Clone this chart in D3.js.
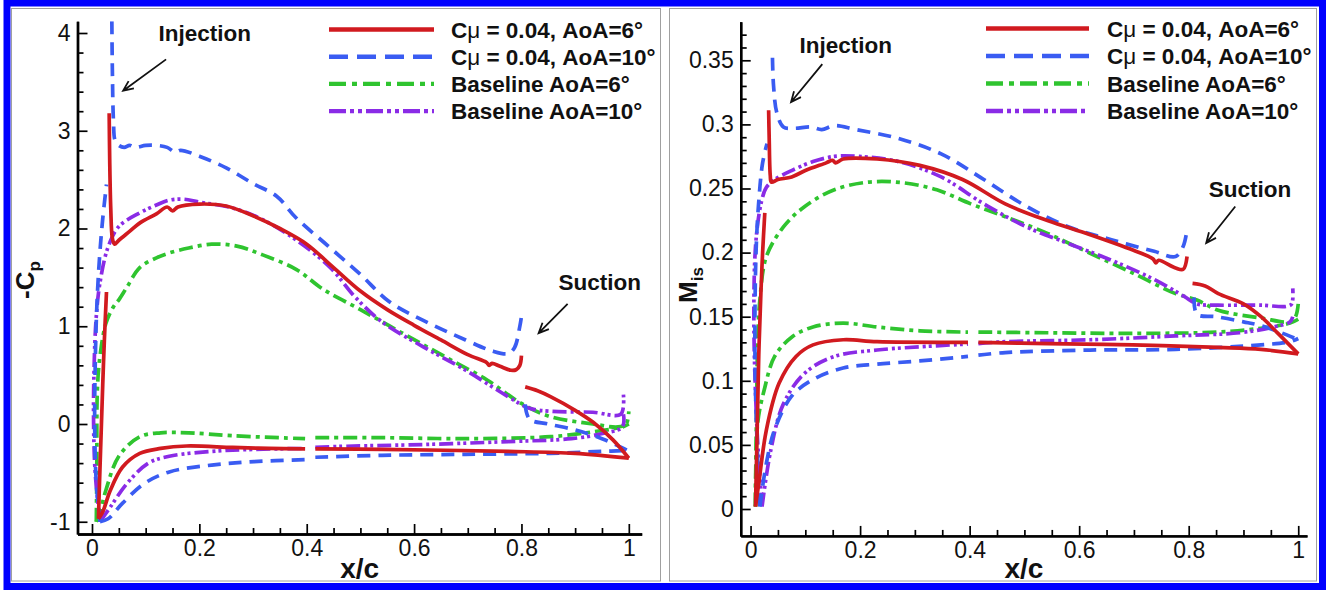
<!DOCTYPE html>
<html>
<head>
<meta charset="utf-8">
<script src="https://cdn.jsdelivr.net/npm/d3@7"></script>
<style>
  body { margin: 0; background: #fff; }
  svg { display: block; }
  text { font-family: "Liberation Sans", Arial, sans-serif; }
</style>
</head>
<body>
<svg id="fig" width="1329" height="590"></svg>
<script>
// ---------- tick labels ----------
const xTicks = [0, 0.2, 0.4, 0.6, 0.8, 1];
const cpTicks = [-1, 0, 1, 2, 3, 4];
const misTicks = [0, 0.05, 0.1, 0.15, 0.2, 0.25, 0.3, 0.35];
const misTickLabels = ["0", "0.05", "0.1", "0.15", "0.2", "0.25", "0.3", "0.35"];

// ---------- legend ----------
const seriesKeys = ["jet6", "jet10", "base6", "base10"];
const legendLabels = [
  ["C", "\u03bc", " = 0.04, AoA=6\u00b0"],
  ["C", "\u03bc", " = 0.04, AoA=10\u00b0"],
  ["Baseline AoA=6\u00b0"],
  ["Baseline AoA=10\u00b0"]
];

// ---------- -Cp distributions: each series is a list of curve pieces [x/c, value] ----------
const cpJet6 = [
  [[0.012,-0.97],[0.014,-0.6],[0.017,-0.1],[0.020,0.4],[0.023,0.85],[0.027,1.35]],
  [[0.032,3.18],[0.033,2.7],[0.035,2.2],[0.038,1.9],[0.042,1.84],[0.05,1.88],[0.07,1.97],[0.09,2.06],[0.12,2.15],[0.14,2.22],[0.15,2.18],[0.16,2.22],[0.2,2.25],[0.25,2.23],[0.3,2.13],[0.35,2.0],[0.4,1.84],[0.45,1.6],[0.5,1.36],[0.55,1.17],[0.6,1.01],[0.65,0.86],[0.7,0.71],[0.735,0.63],[0.74,0.6],[0.745,0.62],[0.76,0.59],[0.78,0.55],[0.79,0.555],[0.797,0.6],[0.8,0.7]],
  [[0.807,0.38],[0.83,0.34],[0.854,0.28],[0.9,0.14],[0.933,0.02],[0.97,-0.16],[1.0,-0.35]],
  [[0.012,-0.97],[0.02,-0.9],[0.034,-0.68],[0.057,-0.44],[0.089,-0.3],[0.128,-0.25],[0.176,-0.225],[0.262,-0.24],[0.33,-0.25],[0.397,-0.255]],
  [[0.416,-0.255],[0.54,-0.26],[0.775,-0.28],[0.9,-0.3],[1.0,-0.35]]
];
const cpJet10 = [
  [[0.015,-1.0],[0.008,-0.6],[0.005,0.0],[0.006,0.6],[0.009,1.2],[0.014,1.7],[0.02,2.1],[0.027,2.45]],
  [[0.037,4.12],[0.038,3.6],[0.04,3.1],[0.043,2.9],[0.05,2.85],[0.06,2.83],[0.07,2.85],[0.08,2.83],[0.1,2.85],[0.12,2.85],[0.14,2.83],[0.155,2.78],[0.165,2.8],[0.2,2.74],[0.25,2.62],[0.3,2.46],[0.344,2.33],[0.38,2.11],[0.44,1.82],[0.5,1.53],[0.554,1.25],[0.617,1.06],[0.696,0.86],[0.744,0.75],[0.775,0.72],[0.787,0.78],[0.797,1.0],[0.8,1.1]],
  [[0.807,0.2],[0.815,0.05],[0.85,0.0],[0.9,-0.06],[0.95,-0.15],[0.99,-0.25],[1.0,-0.28]],
  [[0.015,-1.0],[0.03,-0.97],[0.057,-0.81],[0.097,-0.61],[0.144,-0.49],[0.223,-0.42],[0.302,-0.385],[0.397,-0.365]],
  [[0.416,-0.34],[0.54,-0.32],[0.696,-0.31],[0.854,-0.3],[0.95,-0.28],[1.0,-0.27]]
];
const cpBase6 = [
  [[0.008,-1.0],[0.009,-0.5],[0.01,0.35],[0.015,0.7],[0.026,1.03],[0.04,1.2],[0.05,1.27],[0.065,1.4],[0.089,1.6],[0.12,1.7],[0.144,1.75],[0.18,1.8],[0.223,1.84],[0.27,1.82],[0.318,1.73],[0.381,1.58],[0.43,1.38],[0.5,1.17],[0.578,0.93],[0.657,0.69],[0.736,0.45],[0.8,0.21],[0.854,0.075],[0.933,0.0],[0.98,-0.03],[0.995,0.0],[1.0,0.13]],
  [[0.008,-1.0],[0.015,-0.9],[0.026,-0.675],[0.05,-0.33],[0.089,-0.13],[0.128,-0.09],[0.18,-0.09],[0.262,-0.12],[0.397,-0.15]],
  [[0.416,-0.14],[0.539,-0.14],[0.696,-0.15],[0.854,-0.13],[0.933,-0.08],[0.988,-0.03],[1.0,0.0]]
];
const cpBase10 = [
  [[0.015,-1.0],[0.006,-0.5],[0.003,0.0],[0.004,0.6],[0.008,1.1],[0.015,1.45],[0.03,1.81],[0.05,2.02],[0.089,2.16],[0.12,2.24],[0.144,2.29],[0.17,2.3],[0.2,2.27],[0.262,2.21],[0.318,2.09],[0.381,1.88],[0.444,1.6],[0.49,1.3],[0.539,1.05],[0.617,0.79],[0.696,0.55],[0.775,0.28],[0.815,0.16],[0.854,0.13],[0.933,0.12],[0.985,0.1],[0.99,0.3]],
  [[0.015,-1.0],[0.034,-0.85],[0.065,-0.61],[0.105,-0.4],[0.144,-0.33],[0.223,-0.28],[0.302,-0.26],[0.397,-0.25]],
  [[0.416,-0.24],[0.459,-0.23],[0.617,-0.21],[0.775,-0.18],[0.893,-0.15],[0.949,-0.1],[0.988,-0.03],[0.99,0.1]]
];

// ---------- isentropic Mach number distributions ----------
const misJet6 = [
  [[0.009,0.002],[0.012,0.06],[0.015,0.12],[0.019,0.17],[0.022,0.2],[0.026,0.231]],
  [[0.033,0.311],[0.034,0.29],[0.036,0.26],[0.038,0.255],[0.05,0.257],[0.075,0.259],[0.1,0.264],[0.138,0.27],[0.15,0.272],[0.155,0.27],[0.169,0.273],[0.231,0.273],[0.309,0.268],[0.387,0.257],[0.465,0.238],[0.542,0.225],[0.62,0.214],[0.698,0.202],[0.735,0.195],[0.74,0.192],[0.745,0.194],[0.776,0.188],[0.79,0.187],[0.797,0.197]],
  [[0.807,0.176],[0.83,0.174],[0.854,0.168],[0.9,0.16],[0.932,0.15],[0.963,0.137],[1.0,0.121]],
  [[0.009,0.002],[0.015,0.02],[0.029,0.062],[0.052,0.098],[0.083,0.119],[0.114,0.128],[0.169,0.132],[0.231,0.1305],[0.397,0.13]],
  [[0.416,0.13],[0.542,0.129],[0.698,0.128],[0.854,0.126],[0.932,0.1245],[1.0,0.121]]
];
const misJet10 = [
  [[0.017,0.002],[0.012,0.05],[0.008,0.12],[0.01,0.2],[0.015,0.24],[0.022,0.27],[0.03,0.285]],
  [[0.04,0.352],[0.042,0.33],[0.048,0.309],[0.06,0.298],[0.08,0.297],[0.11,0.298],[0.13,0.296],[0.153,0.299],[0.192,0.296],[0.27,0.289],[0.348,0.277],[0.426,0.257],[0.504,0.236],[0.581,0.22],[0.659,0.21],[0.737,0.201],[0.776,0.197],[0.79,0.205],[0.797,0.218]],
  [[0.81,0.165],[0.815,0.152],[0.85,0.15],[0.9,0.146],[0.932,0.143],[0.978,0.136],[1.0,0.132]],
  [[0.017,0.002],[0.029,0.036],[0.044,0.062],[0.075,0.088],[0.114,0.101],[0.169,0.11],[0.231,0.113],[0.309,0.1155],[0.397,0.119]],
  [[0.416,0.12],[0.465,0.122],[0.62,0.124],[0.776,0.1245],[0.932,0.128],[0.985,0.1305],[1.0,0.133]]
];
const misBase6 = [
  [[0.009,0.002],[0.011,0.08],[0.013,0.13],[0.017,0.163],[0.029,0.197],[0.06,0.22],[0.099,0.236],[0.153,0.249],[0.216,0.255],[0.278,0.2545],[0.34,0.249],[0.402,0.238],[0.465,0.228],[0.542,0.215],[0.62,0.1995],[0.698,0.184],[0.776,0.168],[0.815,0.163],[0.854,0.155],[0.932,0.149],[0.985,0.146],[0.995,0.15],[1.0,0.16]],
  [[0.009,0.002],[0.013,0.067],[0.025,0.093],[0.044,0.119],[0.075,0.134],[0.114,0.142],[0.169,0.145],[0.231,0.142],[0.309,0.139],[0.397,0.138]],
  [[0.416,0.138],[0.542,0.1375],[0.698,0.137],[0.854,0.138],[0.932,0.141],[0.985,0.145],[1.0,0.148]]
];
const misBase10 = [
  [[0.021,0.002],[0.012,0.06],[0.006,0.15],[0.01,0.21],[0.02,0.24],[0.029,0.251],[0.044,0.257],[0.075,0.264],[0.114,0.271],[0.153,0.275],[0.198,0.275],[0.27,0.271],[0.348,0.259],[0.426,0.238],[0.504,0.22],[0.581,0.207],[0.659,0.194],[0.737,0.179],[0.791,0.166],[0.815,0.16],[0.854,0.159],[0.932,0.159],[0.978,0.158],[0.988,0.16],[0.99,0.172]],
  [[0.021,0.002],[0.037,0.046],[0.06,0.082],[0.099,0.106],[0.153,0.119],[0.231,0.124],[0.309,0.1265],[0.397,0.1287]],
  [[0.416,0.129],[0.465,0.1305],[0.62,0.132],[0.776,0.135],[0.893,0.1375],[0.955,0.142],[0.985,0.146],[0.99,0.15]]
];

// ---------- annotations: [label, textX, textY, arrowFromX, arrowFromY, arrowToX, arrowToY] ----------
const cpNotes = [
  ["Injection", 0.21, 4.0, 0.138, 3.73, 0.058, 3.41],
  ["Suction", 0.946, 1.45, 0.886, 1.23, 0.832, 0.93]
];
const misNotes = [
  ["Injection", 0.174, 0.362, 0.131, 0.347, 0.074, 0.3175],
  ["Suction", 0.912, 0.250, 0.885, 0.236, 0.832, 0.2075]
];

// ---------- styling ----------
const seriesStyle = {
  jet6:   { color: "#d11a1f", dash: null,            legendDash: null },
  jet10:  { color: "#3a5cf2", dash: "13,8",          legendDash: "19,9" },
  base6:  { color: "#2fc42f", dash: "14,5,4,5",      legendDash: "17,6,5,6" },
  base10: { color: "#8a2be6", dash: "14,4,3,3,3,4",  legendDash: "17,4,4,4,4,4" }
};

const svg = d3.select("#fig");

// outer blue frame and the two grey panel outlines
svg.append("rect").attr("x", 7).attr("y", 3).attr("width", 1315.5).attr("height", 583.5)
  .attr("fill", "none").attr("stroke", "#0000ff").attr("stroke-width", 7);
svg.append("rect").attr("x", 11.5).attr("y", 8.5).attr("width", 649).attr("height", 572.5)
  .attr("fill", "#fff").attr("stroke", "#a0a0a0").attr("stroke-width", 1);
svg.append("rect").attr("x", 669.5).attr("y", 8.5).attr("width", 647).attr("height", 572.5)
  .attr("fill", "#fff").attr("stroke", "#a0a0a0").attr("stroke-width", 1);

function drawPanel(cfg) {
  const g = svg.append("g");
  const x = d3.scaleLinear().domain(cfg.xDom).range(cfg.xPx);
  const y = d3.scaleLinear().domain(cfg.yDom).range(cfg.yPx);

  // minor ticks
  const xMinor = d3.range(0, 1.0001, 0.05).filter(v => !xTicks.some(t => Math.abs(t - v) < 1e-6));
  const yMinor = d3.range(cfg.yMinorStart, cfg.yMinorEnd + 1e-9, cfg.yMinorStep)
    .filter(v => !cfg.yTicks.some(t => Math.abs(t - v) < 1e-6));

  const xAxisMinor = d3.axisBottom(x).tickValues(xMinor).tickSize(-6).tickSizeOuter(0).tickFormat("");
  const yAxisMinor = d3.axisLeft(y).tickValues(yMinor).tickSize(-6).tickSizeOuter(0).tickFormat("");
  const xAxis = d3.axisBottom(x).tickValues(xTicks).tickSize(-10).tickSizeOuter(0).tickPadding(6)
    .tickFormat(d => String(d));
  const yAxis = d3.axisLeft(y).tickValues(cfg.yTicks).tickSize(-10).tickSizeOuter(0).tickPadding(7)
    .tickFormat((d, i) => cfg.yLabels[i]);

  const yBase = y(cfg.yDom[0]);
  const xBase = x(cfg.xDom[0]);
  [xAxisMinor, xAxis].forEach(a => g.append("g").attr("transform", `translate(0,${yBase})`).call(a));
  [yAxisMinor, yAxis].forEach(a => g.append("g").attr("transform", `translate(${xBase},0)`).call(a));
  g.selectAll(".domain").attr("stroke", "#000").attr("stroke-width", 2.4);
  g.selectAll(".tick line").attr("stroke", "#000").attr("stroke-width", 1.7);
  g.selectAll(".tick text").attr("fill", "#111").style("font-size", "23px")
    .style("font-family", '"Liberation Sans", Arial, sans-serif');

  // curves
  const line = d3.line().x(d => x(d[0])).y(d => y(d[1])).curve(d3.curveCatmullRom.alpha(0.5));
  const clipId = "clip" + cfg.id;
  g.append("clipPath").attr("id", clipId).append("rect")
    .attr("x", x(cfg.xDom[0])).attr("y", y(cfg.yDom[1]))
    .attr("width", x(cfg.xDom[1]) - x(cfg.xDom[0])).attr("height", y(cfg.yDom[0]) - y(cfg.yDom[1]));
  const curves = g.append("g").attr("clip-path", `url(#${clipId})`);
  ["base6", "base10", "jet10", "jet6"].forEach(key => {
    const st = seriesStyle[key];
    curves.selectAll(null).data(cfg.data[key]).enter().append("path")
      .attr("d", line).attr("fill", "none").attr("stroke", st.color)
      .attr("stroke-width", 3.7).attr("stroke-dasharray", st.dash)
      .attr("stroke-linejoin", "round");
  });

  // legend
  const lg = g.append("g");
  seriesKeys.forEach((key, i) => {
    const st = seriesStyle[key];
    const yy = cfg.legendY + i * cfg.legendStep;
    lg.append("line").attr("x1", cfg.legendX0).attr("x2", cfg.legendX1).attr("y1", yy).attr("y2", yy)
      .attr("stroke", st.color).attr("stroke-width", 4.4).attr("stroke-dasharray", st.legendDash);
    const t = lg.append("text").attr("x", cfg.legendTextX).attr("y", yy + 8)
      .style("font-size", "22.5px").style("font-weight", "bold").attr("fill", "#111");
    const parts = legendLabels[i];
    if (parts.length === 3) {
      t.append("tspan").text(parts[0]);
      t.append("tspan").text(parts[1]).style("font-weight", "normal");
      t.append("tspan").text(parts[2]);
    } else {
      t.text(parts[0]);
    }
  });

  // annotations with arrows
  cfg.notes.forEach(n => {
    g.append("text").attr("x", x(n[1])).attr("y", y(n[2]) + 8).attr("text-anchor", "middle")
      .style("font-size", "22.5px").style("font-weight", "bold").attr("fill", "#111").text(n[0]);
    const x1 = x(n[3]), y1 = y(n[4]), x2 = x(n[5]), y2 = y(n[6]);
    const ang = Math.atan2(y2 - y1, x2 - x1);
    const hl = 11, ha = 0.42;
    g.append("path")
      .attr("d", `M${x1},${y1}L${x2},${y2}` +
        `M${x2 - hl * Math.cos(ang - ha)},${y2 - hl * Math.sin(ang - ha)}L${x2},${y2}` +
        `L${x2 - hl * Math.cos(ang + ha)},${y2 - hl * Math.sin(ang + ha)}`)
      .attr("fill", "none").attr("stroke", "#111").attr("stroke-width", 1.8);
  });

  // axis titles
  g.append("text").attr("x", (x(cfg.xDom[0]) + x(cfg.xDom[1])) / 2).attr("y", 578)
    .attr("text-anchor", "middle").style("font-size", "28px").style("font-weight", "bold")
    .attr("fill", "#111").text("x/c");
  const yt = g.append("text").attr("transform", `translate(${cfg.yTitleX},${cfg.yTitleY}) rotate(-90)`)
    .attr("text-anchor", "middle").style("font-size", "26px").style("font-weight", "bold").attr("fill", "#111");
  yt.append("tspan").text(cfg.yTitle[0]);
  yt.append("tspan").text(cfg.yTitle[1]).attr("dy", 6).style("font-size", "17px");
}

drawPanel({
  id: "cp",
  xDom: [-0.027, 1.024], xPx: [77.5, 641.7],
  yDom: [-1.125, 4.12], yPx: [424 + 1.125 * 97.75, 424 - 4.12 * 97.75],
  yTicks: cpTicks, yLabels: cpTicks.map(String),
  yMinorStart: -1, yMinorEnd: 4, yMinorStep: 0.2,
  data: { jet6: cpJet6, jet10: cpJet10, base6: cpBase6, base10: cpBase10 },
  legendX0: 329, legendX1: 434, legendTextX: 451, legendY: 29.5, legendStep: 27.2,
  notes: cpNotes,
  yTitle: ["-C", "p"], yTitleX: 34, yTitleY: 280
});

drawPanel({
  id: "mis",
  xDom: [-0.018, 1.016], xPx: [740.7, 1307],
  yDom: [-0.021, 0.38], yPx: [509 + 0.021 * 1282, 509 - 0.38 * 1282],
  yTicks: misTicks, yLabels: misTickLabels,
  yMinorStart: 0, yMinorEnd: 0.37, yMinorStep: 0.01,
  data: { jet6: misJet6, jet10: misJet10, base6: misBase6, base10: misBase10 },
  legendX0: 986, legendX1: 1089, legendTextX: 1107, legendY: 28.5, legendStep: 27.5,
  notes: misNotes,
  yTitle: ["M", "is"], yTitleX: 697, yTitleY: 285
});
</script>
</body>
</html>
